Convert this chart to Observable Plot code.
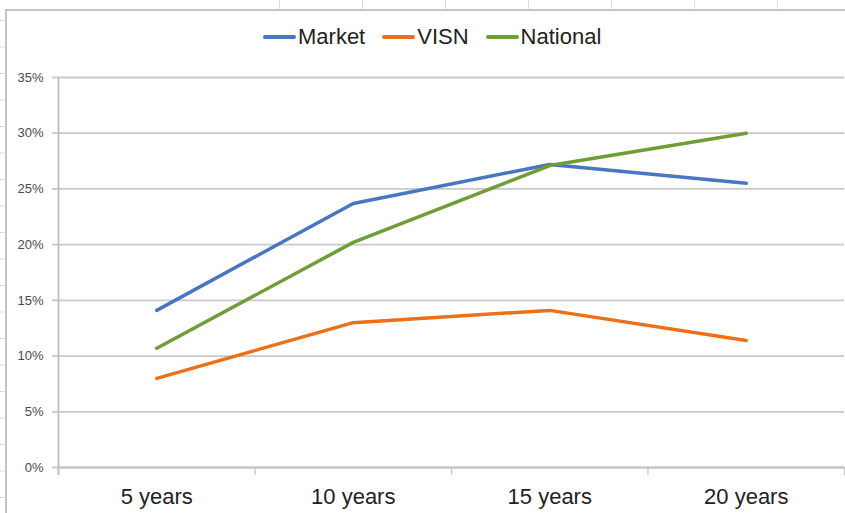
<!DOCTYPE html>
<html><head><meta charset="utf-8">
<script src="https://cdn.jsdelivr.net/npm/d3@7"></script>
<script src="https://cdn.jsdelivr.net/npm/@observablehq/plot@0.6"></script>
<style>
html,body{margin:0;padding:0;background:#fff;}
body{width:845px;height:513px;overflow:hidden;position:relative;font-family:"Liberation Sans",Arial,sans-serif;}
.deco{position:absolute;pointer-events:none;}
#colLines{left:279px;top:0;width:566px;height:9px;background-image:linear-gradient(to right,#dcdcdc 1px,transparent 1px);background-size:83px 9px;}
#topBorder{left:5px;top:9px;width:840px;height:2px;background:#c4c4c4;}
#leftBorder{left:5px;top:9px;width:2px;height:504px;background:#c4c4c4;}
#rowLines{left:0;top:20px;width:5px;height:493px;background-image:linear-gradient(to bottom,#dcdcdc 1px,transparent 1px);background-size:5px 26.5px;}
#legend{height:60px;box-sizing:border-box;padding-top:14px;padding-left:263px;display:flex;align-items:center;font-size:22px;color:#222;}
.item{display:flex;align-items:center;margin-right:17px;}
.sw{width:33px;height:4px;border-radius:2px;margin-right:2px;}
#chart svg{display:block;}
</style></head>
<body>
<div class="deco" id="colLines"></div>
<div class="deco" id="rowLines"></div>
<div class="deco" id="topBorder"></div>
<div class="deco" id="leftBorder"></div>
<div id="legend"></div>
<div id="chart"></div>
<script>
const categories = ["5 years", "10 years", "15 years", "20 years"];
const seriesNames = ["Market", "VISN", "National"];
const market = [14.1, 23.7, 27.2, 25.5];
const visn = [8.0, 13.0, 14.1, 11.4];
const national = [10.7, 20.2, 27.1, 30.0];
const yTicks = [0, 5, 10, 15, 20, 25, 30, 35];

const seriesColors = ["#4776c2", "#ec7017", "#6f9d36"];
const seriesValues = [market, visn, national];

const rows = seriesNames.flatMap((s, si) =>
  categories.map((c, i) => ({series: s, category: c, xi: i + 0.5, value: seriesValues[si][i]})));

const legend = document.getElementById("legend");
seriesNames.forEach((s, i) => {
  const it = document.createElement("div");
  it.className = "item";
  const sw = document.createElement("div");
  sw.className = "sw";
  sw.style.background = seriesColors[i];
  const t = document.createElement("span");
  t.textContent = s;
  it.appendChild(sw); it.appendChild(t);
  legend.appendChild(it);
});

const grid = "#c9c9c9";
const chart = Plot.plot({
  width: 845,
  height: 453,
  marginLeft: 58,
  marginRight: 1,
  marginTop: 17,
  marginBottom: 46,
  style: {fontFamily: "'Liberation Sans', Arial, sans-serif", background: "transparent", overflow: "visible"},
  x: {type: "linear", domain: [0, categories.length]},
  y: {domain: [0, 35]},
  color: {domain: seriesNames, range: seriesColors},
  marks: [
    Plot.gridY(yTicks, {stroke: grid, strokeOpacity: 1, strokeWidth: 1.8}),
    Plot.axisY(yTicks, {tickSize: 6, tickPadding: 9, stroke: grid, strokeWidth: 1.8, tickFormat: d => d + "%", fontSize: 13, fill: "#4a4a4a", label: null}),
    Plot.axisX(d3.range(categories.length + 1), {tickSize: 8, tickFormat: () => "", stroke: "#c4c4c4", strokeWidth: 1.2, label: null}),
    Plot.axisX(categories.map((c, i) => i + 0.5), {tickSize: 0, tickPadding: 21, tickFormat: d => categories[Math.round(d - 0.5)], fontSize: 22, fill: "#222", label: null}),
    Plot.ruleX([0], {stroke: "#bdbdbd", strokeWidth: 1.8, insetBottom: -8}),
    Plot.ruleY([0], {stroke: "#c4c4c4", strokeWidth: 1.8}),
    Plot.line(rows, {x: "xi", y: "value", z: "series", stroke: "series", strokeWidth: 3.5, strokeLinejoin: "round", strokeLinecap: "round"})
  ]
});
document.getElementById("chart").appendChild(chart);
</script>
</body></html>
